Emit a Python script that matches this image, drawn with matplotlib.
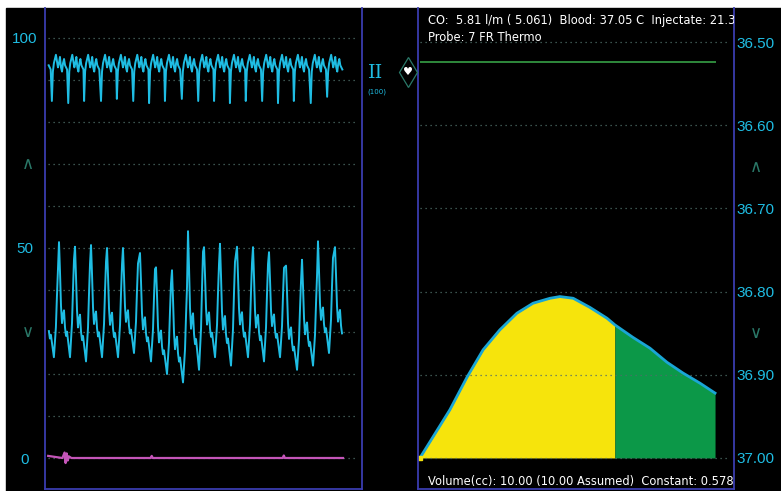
import matplotlib
matplotlib.use("Agg")
import matplotlib.pyplot as plt
from matplotlib.patches import Rectangle
from matplotlib.lines import Line2D
import numpy as np

# --- ECG (lead II), one template per beat, beat onsets in seconds ---
ecg_beats = [-0.18, 0.13, 0.44, 0.74, 1.06, 1.36, 1.67, 1.97, 2.27, 2.59,
             2.90, 3.20, 3.50, 3.80, 4.11, 4.41, 4.71, 5.03, 5.34]
ecg_depth = [85, 85, 84.5, 85, 85, 85.5, 85, 84.5, 85, 85.5,
             85, 85, 84.5, 85, 85, 84.5, 85, 84.5, 86]
ecg_tmpl = [85, 92, 94, 95, 96, 94.5, 93, 94, 95.5, 93, 92, 94, 95, 93.5, 93, 92.5]

# --- arterial pressure, peaks (s), peak and trough values (mmHg) ---
art_peaks = [-0.04, 0.265, 0.568, 0.871, 1.174, 1.476, 1.798, 2.101, 2.404, 2.707,
             3.010, 3.312, 3.634, 3.937, 4.240, 4.562, 4.865, 5.167, 5.489]
art_peak_val = [48, 51.4, 50.3, 50.7, 50, 50, 48.8, 45.4, 44.7, 54,
                50.2, 51, 50.3, 50.2, 49, 45.8, 47.2, 51.6, 50.2]
art_dip_val = [24, 24, 23, 24, 24, 25, 23, 20, 18, 21,
               24, 22, 24, 23, 24, 21, 22, 25, 25]
art_tmpl = [50, 43, 35, 31, 33, 34, 30, 28, 29, 27, 25, 23, 27, 31, 39, 46]

# --- second pressure channel (flat near 0) ---
pa_t = [0.06, 0.33, 0.37, 0.39, 0.41, 0.43, 0.45, 0.50, 2.00, 2.02, 2.04, 4.50, 4.52, 4.54, 5.64]
pa_v = [0.5, 0.0, 1.3, -1.2, 1.1, -0.6, 0.4, 0.0, 0.0, 0.5, 0.0, 0.0, 0.6, 0.0, 0.0]

# --- thermodilution curve ---
td_t = [0.06, 0.47, 1.01, 1.55, 2.06, 2.59, 3.13, 3.64, 4.18, 4.49,
        4.91, 5.44, 5.98, 6.23, 6.80, 7.34, 7.88, 8.39, 8.92, 9.40]
td_temp = [37.000, 36.975, 36.942, 36.903, 36.870, 36.846, 36.826, 36.814, 36.808, 36.806,
           36.808, 36.819, 36.832, 36.840, 36.855, 36.868, 36.885, 36.898, 36.910, 36.922]
td_split = 6.23
blood_line = 36.524

left_ticks = [0, 50, 100]
right_ticks = [36.50, 36.60, 36.70, 36.80, 36.90, 37.00]
header1 = "CO:  5.81 l/m ( 5.061)  Blood: 37.05 C  Injectate: 21.3"
header2 = "Probe: 7 FR Thermo"
footer = "Volume(cc): 10.00 (10.00 Assumed)  Constant: 0.578"

CYAN = "#1fbde3"
BORDER = "#3a3cae"
GRID = "#4f6e68"
DIM = "#2a7868"
LABEL_FONT = "Liberation Sans"

W, H = 781, 491
fig = plt.figure(figsize=(W / 100, H / 100), dpi=100, facecolor="white")
fig.patches.append(Rectangle((6 / W, 0), 1 - 6 / W, (H - 8) / H,
                             transform=fig.transFigure, color="black", zorder=-10))


def panel(x0, x1):
    ax = fig.add_axes([x0 / W, (H - 489) / H, (x1 - x0) / W, (489 - 8) / H])
    ax.set_facecolor("black")
    for s in ["left", "right", "bottom"]:
        ax.spines[s].set_color(BORDER)
        ax.spines[s].set_linewidth(1.3)
    ax.spines["top"].set_visible(False)
    ax.set_xticks([])
    return ax


def build(beats, tmpl, period, scale):
    t_all, v_all = [], []
    for i, b in enumerate(beats):
        t = b + np.arange(len(tmpl)) * period / len(tmpl)
        t_all.append(t)
        v_all.append(scale(i, np.asarray(tmpl, float)))
    return np.concatenate(t_all), np.concatenate(v_all)


# ---------- left panel ----------
axl = panel(45, 362)
axl.set_xlim(0, 6)
axl.set_ylim(-7.38, 107.14)
axl.hlines(np.arange(0, 101, 10), 0.057, 5.905, colors=GRID, linestyles=(0, (1, 3)), lw=0.9)

et, ev = build(ecg_beats, ecg_tmpl, 0.307,
               lambda i, a: np.where(a == a.min(), ecg_depth[i], a))
m = (et >= 0.057) & (et <= 5.64)
axl.plot(et[m], ev[m], color=CYAN, lw=1.4)

at, av = build(art_peaks, art_tmpl, 0.303,
               lambda i, a: art_dip_val[i] + (a - 23) * (art_peak_val[i] - art_dip_val[i]) / 27)
m = (at >= 0.057) & (at <= 5.64)
axl.plot(at[m], av[m], color=CYAN, lw=1.4)

axl.plot(pa_t, pa_v, color="#c455b8", lw=1.6)

axl.set_yticks(left_ticks)
axl.set_yticklabels([str(v) for v in left_ticks])
axl.tick_params(axis="y", length=0, pad=14.5, labelsize=11, labelcolor=CYAN)
plt.setp(axl.get_yticklabels(), ha="center", family=LABEL_FONT)
for val, ch in [(70, "∧"), (30, "∨")]:
    axl.text(-0.054, val, ch, transform=axl.get_yaxis_transform(), color=DIM,
             ha="center", va="center", fontsize=12)

# ---------- right panel ----------
axr = panel(418, 734)
axr.set_xlim(0, 10)
axr.set_ylim(37.0373, 36.4591)
axr.hlines(right_ticks, 0.06, 9.8, colors=GRID, linestyles=(0, (1, 3)), lw=0.9)
axr.hlines(blood_line, 0.06, 9.43, colors="#37a046", lw=1.2)

t = np.asarray(td_t)
v = np.asarray(td_temp)
axr.fill_between(t, v, 37.0, where=t <= td_split, color="#f6e40c", lw=0)
axr.fill_between(t, v, 37.0, where=t >= td_split, color="#0c9848", lw=0)
axr.plot(t, v, color="#1aa6d6", lw=2)
axr.plot([0.06], [37.0], marker="s", ms=3, color="#f6e40c")

axr.yaxis.tick_right()
axr.set_yticks(right_ticks)
axr.set_yticklabels([f"{v:.2f}" for v in right_ticks])
axr.tick_params(axis="y", length=0, pad=2, labelsize=11, labelcolor=CYAN)
plt.setp(axr.get_yticklabels(), family=LABEL_FONT)
for val, ch in [(36.65, "∧"), (36.85, "∨")]:
    axr.text(1.07, val, ch, transform=axr.get_yaxis_transform(), color=DIM,
             ha="center", va="center", fontsize=12, clip_on=False)

for y, s in [(0.975, header1), (0.938, header2), (0.0166, footer)]:
    axr.text(0.032, y, s, transform=axr.transAxes, color="white",
             fontsize=8.3, va="center", ha="left", clip_on=True)

# ---------- between the panels ----------
fig.text(376 / W, 1 - 73 / H, "II", family="DejaVu Serif", color=CYAN,
         fontsize=14, ha="center", va="center")
fig.text(377 / W, 1 - 92 / H, "(100)", color=CYAN, fontsize=5, ha="center", va="center")
fig.add_artist(Line2D([408 / W], [1 - 72 / H], transform=fig.transFigure, marker="d",
                      ms=15, mfc="none", mec=DIM, mew=0.9, ls="none"))
fig.text(408 / W, 1 - 72 / H, "♥", color="white", fontsize=8, ha="center", va="center")

fig.savefig("out.png", dpi=100, facecolor="white")
